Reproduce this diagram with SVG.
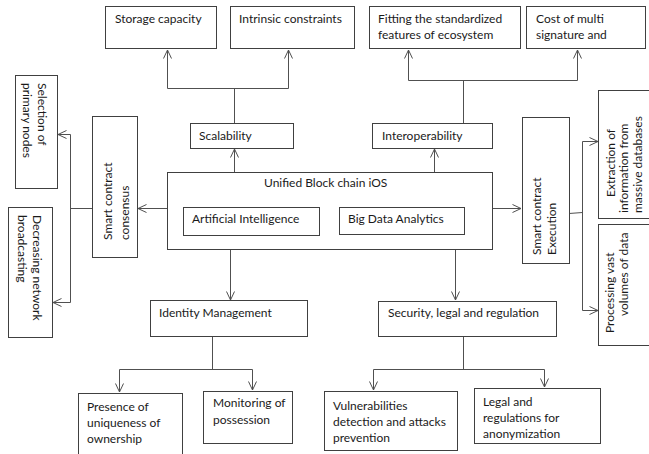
<svg xmlns="http://www.w3.org/2000/svg" width="649" height="454" viewBox="0 0 649 454">
  <style>
    .box { fill: #ffffff; stroke: #404040; stroke-width: 1; }
    .lbl { font-family: Lato, "Liberation Sans", sans-serif; font-size: 12px; fill: #1a1a1a; }
    .wire { fill: none; stroke: #505050; stroke-width: 1; }
    .arw { fill: none; stroke: #505050; stroke-width: 1; marker-end: url(#chev); }
  </style>
  <defs>
    <marker id="chev" viewBox="0 0 10 10" refX="9.5" refY="5" markerWidth="10" markerHeight="10" markerUnits="userSpaceOnUse" orient="auto">
      <path d="M1,1 L9.5,5 L1,9" fill="none" stroke="#505050" stroke-width="1"/>
    </marker>
  </defs>
  <rect width="649" height="454" fill="#ffffff"/>

  <!-- connectors -->
  <g id="connectors">
    <!-- scalability branch -->
    <path class="arw" d="M234.5,172 V149"/>
    <path class="wire" d="M234.5,123 V88.5 M167.5,88.5 H288.5"/>
    <path class="arw" d="M167.5,88.5 V50"/>
    <path class="arw" d="M288.5,88.5 V50"/>
    <!-- interoperability branch -->
    <path class="arw" d="M434.5,172 V149"/>
    <path class="wire" d="M463.5,123 V80.5 M408.5,80.5 H577.5"/>
    <path class="arw" d="M408.5,80.5 V50"/>
    <path class="arw" d="M577.5,80.5 V50"/>
    <!-- consensus branch -->
    <path class="arw" d="M167,208.5 H138"/>
    <path class="wire" d="M92,208.5 H70.5 M70.5,134.5 V302.5"/>
    <path class="arw" d="M70.5,134.5 H58"/>
    <path class="arw" d="M70.5,302.5 H53"/>
    <!-- execution branch -->
    <path class="arw" d="M492,208.5 H521"/>
    <path class="wire" d="M569,213.5 L582.5,212.5 M582.5,141.5 V310.5"/>
    <path class="arw" d="M582.5,141.5 H598"/>
    <path class="arw" d="M582.5,310.5 H598"/>
    <!-- identity branch -->
    <path class="arw" d="M230.5,249 V300"/>
    <path class="wire" d="M212.5,336 V369.5 M119.5,369.5 H252.5"/>
    <path class="arw" d="M119.5,369.5 V392"/>
    <path class="arw" d="M252.5,369.5 V390"/>
    <!-- security branch -->
    <path class="arw" d="M455.5,249 V300"/>
    <path class="wire" d="M463.5,336 V369.5 M373.5,369.5 H544.5"/>
    <path class="arw" d="M373.5,369.5 V390"/>
    <path class="arw" d="M544.5,369.5 V387"/>
  </g>

  <!-- top row -->
  <g id="storage-capacity">
    <rect class="box" x="105.5" y="6.5" width="111" height="42"/>
    <text class="lbl" x="115" y="23">Storage capacity</text>
  </g>
  <g id="intrinsic-constraints">
    <rect class="box" x="230.5" y="6.5" width="124" height="42"/>
    <text class="lbl" x="239" y="23">Intrinsic constraints</text>
  </g>
  <g id="fitting-features">
    <rect class="box" x="369.5" y="6.5" width="151" height="42"/>
    <text class="lbl" x="378" y="23">Fitting the standardized</text>
    <text class="lbl" x="378" y="39">features of ecosystem</text>
  </g>
  <g id="multisig-cost">
    <rect class="box" x="526.5" y="6.5" width="119" height="42"/>
    <text class="lbl" x="536" y="23">Cost of multi</text>
    <text class="lbl" x="536" y="39">signature and</text>
  </g>

  <!-- second row -->
  <g id="scalability">
    <rect class="box" x="190.5" y="123.5" width="103" height="25"/>
    <text class="lbl" x="199" y="140">Scalability</text>
  </g>
  <g id="interoperability">
    <rect class="box" x="372.5" y="123.5" width="120" height="25"/>
    <text class="lbl" x="382" y="140">Interoperability</text>
  </g>

  <!-- core -->
  <g id="unified-blockchain-ios">
    <rect class="box" x="167.5" y="172.5" width="325" height="77"/>
    <text class="lbl" x="264" y="187">Unified Block chain iOS</text>
    <g id="artificial-intelligence">
      <rect class="box" x="183.5" y="207.5" width="136" height="28"/>
      <text class="lbl" x="192" y="223">Artificial Intelligence</text>
    </g>
    <g id="big-data-analytics">
      <rect class="box" x="339.5" y="207.5" width="125" height="27"/>
      <text class="lbl" x="348" y="223">Big Data Analytics</text>
    </g>
  </g>

  <!-- left side -->
  <g id="smart-contract-consensus">
    <rect class="box" x="92.5" y="116.5" width="45" height="141"/>
    <text class="lbl" transform="translate(112,240) rotate(-90)">Smart contract</text>
    <text class="lbl" transform="translate(129,240) rotate(-90)">consensus</text>
  </g>
  <g id="primary-node-selection">
    <rect class="box" x="15.5" y="75.5" width="42" height="113"/>
    <text class="lbl" transform="translate(38,83) rotate(90)">Selection of</text>
    <text class="lbl" transform="translate(23,83) rotate(90)">primary nodes</text>
  </g>
  <g id="network-broadcasting">
    <rect class="box" x="8.5" y="207.5" width="44" height="130"/>
    <text class="lbl" transform="translate(33,215) rotate(90)">Decreasing network</text>
    <text class="lbl" transform="translate(18,215) rotate(90)">broadcasting</text>
  </g>

  <!-- right side -->
  <g id="smart-contract-execution">
    <rect class="box" x="522.5" y="117.5" width="47" height="146"/>
    <text class="lbl" transform="translate(541,255) rotate(-90)">Smart contract</text>
    <text class="lbl" transform="translate(556,255) rotate(-90)">Execution</text>
  </g>
  <g id="information-extraction">
    <rect class="box" x="598.5" y="90.5" width="60" height="128"/>
    <text class="lbl" transform="translate(615,197) rotate(-90)">Extraction of</text>
    <text class="lbl" transform="translate(628,213) rotate(-90)">information from</text>
    <text class="lbl" transform="translate(642,213) rotate(-90)">massive databases</text>
  </g>
  <g id="data-processing">
    <rect class="box" x="598.5" y="224.5" width="60" height="121"/>
    <text class="lbl" transform="translate(614,333) rotate(-90)">Processing vast</text>
    <text class="lbl" transform="translate(628,316) rotate(-90)">volumes of data</text>
  </g>

  <!-- third row -->
  <g id="identity-management">
    <rect class="box" x="150.5" y="300.5" width="157" height="36"/>
    <text class="lbl" x="159" y="317">Identity Management</text>
  </g>
  <g id="security-legal-regulation">
    <rect class="box" x="378.5" y="301.5" width="178" height="35"/>
    <text class="lbl" x="388" y="317">Security, legal and regulation</text>
  </g>

  <!-- bottom row -->
  <g id="ownership-uniqueness">
    <rect class="box" x="78.5" y="393.5" width="104" height="70"/>
    <text class="lbl" x="87" y="411">Presence of</text>
    <text class="lbl" x="87" y="427">uniqueness of</text>
    <text class="lbl" x="87" y="443">ownership</text>
  </g>
  <g id="possession-monitoring">
    <rect class="box" x="203.5" y="391.5" width="89" height="52"/>
    <text class="lbl" x="213" y="407">Monitoring of</text>
    <text class="lbl" x="213" y="424">possession</text>
  </g>
  <g id="vulnerability-detection">
    <rect class="box" x="324.5" y="391.5" width="133" height="59"/>
    <text class="lbl" x="333" y="410">Vulnerabilities</text>
    <text class="lbl" x="333" y="426">detection and attacks</text>
    <text class="lbl" x="333" y="442">prevention</text>
  </g>
  <g id="anonymization-regulation">
    <rect class="box" x="474.5" y="388.5" width="126" height="55"/>
    <text class="lbl" x="483" y="406">Legal and</text>
    <text class="lbl" x="483" y="422">regulations for</text>
    <text class="lbl" x="483" y="438">anonymization</text>
  </g>
</svg>
